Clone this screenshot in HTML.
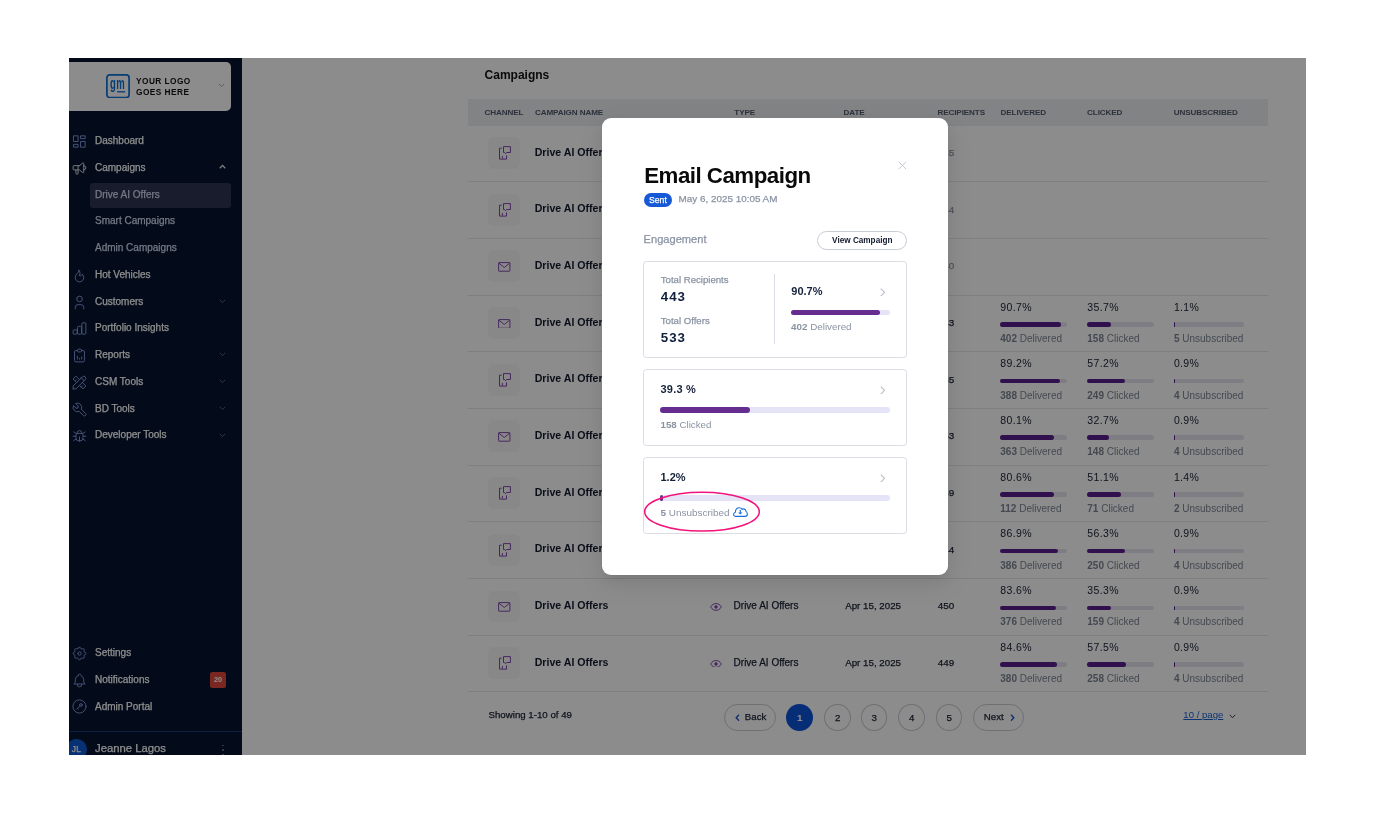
<!DOCTYPE html>
<html><head><meta charset="utf-8"><title>Campaigns</title>
<style>
*{margin:0;padding:0;box-sizing:content-box}
html,body{width:1375px;height:829px;overflow:hidden;background:#fff}
body{position:relative;font-family:"Liberation Sans", Arial, sans-serif;-webkit-font-smoothing:antialiased}
#app{position:absolute;left:69px;top:58px;width:1237px;height:697px;overflow:hidden}
#in{position:absolute;left:-69px;top:-58px;width:1375px;height:829px;will-change:transform}
.t{position:absolute;white-space:nowrap}
.b{position:absolute;display:block}
</style></head><body><div id="app"><div id="in">
<div class="b" style="left:69.00px;top:58.00px;width:173.00px;height:697.00px;background:#061530"></div>
<div class="b" style="left:40.00px;top:62.00px;width:191.00px;height:49.00px;background:#fff;border-radius:5px"></div>
<svg class="b" style="left:106.00px;top:74.00px;" width="24" height="24" viewBox="0 0 24 24" fill="none"><rect x="0.9" y="0.9" width="22.2" height="22.6" rx="2.8" stroke="#0b6fd6" stroke-width="1.7" fill="none"/><text transform="translate(4.0 15.1) scale(0.68 1.24)" font-family="Liberation Sans, Arial, sans-serif" font-size="14" font-weight="700" fill="#0b6fd6" letter-spacing="0.5">gm</text><path stroke="#0b6fd6" stroke-width="1.3" d="M11.1 17.8 H19.2"/></svg>
<div class="t" style="left:136.00px;top:77px;font-size:8.3px;line-height:8.3px;font-weight:700;color:#111;letter-spacing:0.45px;">YOUR LOGO</div>
<div class="t" style="left:136.00px;top:88px;font-size:8.3px;line-height:8.3px;font-weight:700;color:#111;letter-spacing:0.45px;">GOES HERE</div>
<svg class="b" style="left:218.00px;top:83.00px;" width="7" height="5" viewBox="0 0 7 5" fill="none"><path d="M0.8 0.8 L3.5 3.6 L6.2 0.8" stroke="#9aa3b5" stroke-width="0.9"/></svg>
<div class="b" style="left:90.00px;top:182.50px;width:141.00px;height:25.30px;background:#2c3350;border-radius:3px"></div>
<div class="t" style="left:95.00px;top:136px;font-size:10px;line-height:10px;font-weight:400;color:#ffffff;letter-spacing:0px;-webkit-text-stroke:0.25px currentColor">Dashboard</div>
<svg class="b" style="left:70.60px;top:133.10px;" width="17" height="17" viewBox="0 0 24 24" fill="none"><g stroke="#8097d8" stroke-width="1.4" stroke-linejoin="round" stroke-linecap="round"><path d="M4 4h6v8h-6z M4 16h6v4h-6z M14 12h6v8h-6z M14 4h6v4h-6z"/></g></svg>
<div class="t" style="left:95.00px;top:163px;font-size:10px;line-height:10px;font-weight:400;color:#ffffff;letter-spacing:0px;-webkit-text-stroke:0.25px currentColor">Campaigns</div>
<svg class="b" style="left:70.60px;top:159.85px;" width="17" height="17" viewBox="0 0 24 24" fill="none"><g stroke="#d9dbe0" stroke-width="1.4" stroke-linejoin="round" stroke-linecap="round"><path d="M18 8a3 3 0 0 1 0 6"/><path d="M10 8v11a1 1 0 0 1 -1 1h-1a1 1 0 0 1 -1 -1v-5"/><path d="M12 8h0l4.524 -3.77a.9 .9 0 0 1 1.476 .692v12.156a.9 .9 0 0 1 -1.476 .692l-4.524 -3.77h-8a1 1 0 0 1 -1 -1v-4a1 1 0 0 1 1 -1h8"/></g></svg>
<svg class="b" style="left:218.60px;top:164.45px;" width="7" height="5" viewBox="0 0 7 5" fill="none"><path d="M0.8 4.2 L3.5 1.4 L6.2 4.2" stroke="#e6e8ec" stroke-width="1.3"/></svg>
<div class="t" style="left:95.00px;top:190px;font-size:10px;line-height:10px;font-weight:400;color:#d3dbf2;letter-spacing:0px;-webkit-text-stroke:0.25px currentColor">Drive AI Offers</div>
<div class="t" style="left:95.00px;top:216px;font-size:10px;line-height:10px;font-weight:400;color:#d3dbf2;letter-spacing:0px;-webkit-text-stroke:0.25px currentColor">Smart Campaigns</div>
<div class="t" style="left:95.00px;top:243px;font-size:10px;line-height:10px;font-weight:400;color:#d3dbf2;letter-spacing:0px;-webkit-text-stroke:0.25px currentColor">Admin Campaigns</div>
<div class="t" style="left:95.00px;top:270px;font-size:10px;line-height:10px;font-weight:400;color:#ffffff;letter-spacing:0px;-webkit-text-stroke:0.25px currentColor">Hot Vehicles</div>
<svg class="b" style="left:70.60px;top:266.85px;" width="17" height="17" viewBox="0 0 24 24" fill="none"><g stroke="#8097d8" stroke-width="1.4" stroke-linejoin="round" stroke-linecap="round"><path d="M12 12c2 -2.96 0 -7 -1 -8c0 3.038 -1.773 4.741 -3 6c-1.226 1.26 -2 3.24 -2 5a6 6 0 1 0 12 0c0 -1.532 -1.056 -3.94 -2 -5c-1.786 3 -2.791 3 -4 2z"/></g></svg>
<div class="t" style="left:95.00px;top:297px;font-size:10px;line-height:10px;font-weight:400;color:#ffffff;letter-spacing:0px;-webkit-text-stroke:0.25px currentColor">Customers</div>
<svg class="b" style="left:70.60px;top:293.60px;" width="17" height="17" viewBox="0 0 24 24" fill="none"><g stroke="#8097d8" stroke-width="1.4" stroke-linejoin="round" stroke-linecap="round"><path d="M8 7a4 4 0 1 0 8 0a4 4 0 0 0 -8 0"/><path d="M6 21v-2a4 4 0 0 1 4 -4h4a4 4 0 0 1 4 4v2"/></g></svg>
<svg class="b" style="left:218.60px;top:298.80px;" width="7" height="5" viewBox="0 0 7 5" fill="none"><path d="M0.8 0.8 L3.5 3.6 L6.2 0.8" stroke="#5d6b8c" stroke-width="0.9"/></svg>
<div class="t" style="left:95.00px;top:323px;font-size:10px;line-height:10px;font-weight:400;color:#ffffff;letter-spacing:0px;-webkit-text-stroke:0.25px currentColor">Portfolio Insights</div>
<svg class="b" style="left:70.60px;top:320.35px;" width="17" height="17" viewBox="0 0 24 24" fill="none"><g stroke="#8097d8" stroke-width="1.4" stroke-linejoin="round" stroke-linecap="round"><path d="M3 15a1 1 0 0 1 1 -1h3.6a1 1 0 0 1 1 1v4a1 1 0 0 1 -1 1h-3.6a1 1 0 0 1 -1 -1z"/><path d="M9.2 10a1 1 0 0 1 1 -1h3.6a1 1 0 0 1 1 1v9a1 1 0 0 1 -1 1h-3.6a1 1 0 0 1 -1 -1z"/><path d="M15.4 5a1 1 0 0 1 1 -1h3.6a1 1 0 0 1 1 1v14a1 1 0 0 1 -1 1h-3.6a1 1 0 0 1 -1 -1z"/></g></svg>
<div class="t" style="left:95.00px;top:350px;font-size:10px;line-height:10px;font-weight:400;color:#ffffff;letter-spacing:0px;-webkit-text-stroke:0.25px currentColor">Reports</div>
<svg class="b" style="left:70.60px;top:347.10px;" width="17" height="17" viewBox="0 0 24 24" fill="none"><g stroke="#8097d8" stroke-width="1.4" stroke-linejoin="round" stroke-linecap="round"><path d="M9 5h-2a2 2 0 0 0 -2 2v12a2 2 0 0 0 2 2h10a2 2 0 0 0 2 -2v-12a2 2 0 0 0 -2 -2h-2"/><path d="M9 5a2 2 0 0 1 2 -2h2a2 2 0 0 1 2 2v0a2 2 0 0 1 -2 2h-2a2 2 0 0 1 -2 -2z"/><path d="M9 17v-4 M12 17v-1 M15 17v-3"/></g></svg>
<svg class="b" style="left:218.60px;top:352.30px;" width="7" height="5" viewBox="0 0 7 5" fill="none"><path d="M0.8 0.8 L3.5 3.6 L6.2 0.8" stroke="#5d6b8c" stroke-width="0.9"/></svg>
<div class="t" style="left:95.00px;top:377px;font-size:10px;line-height:10px;font-weight:400;color:#ffffff;letter-spacing:0px;-webkit-text-stroke:0.25px currentColor">CSM Tools</div>
<svg class="b" style="left:70.60px;top:373.85px;" width="17" height="17" viewBox="0 0 24 24" fill="none"><g stroke="#8097d8" stroke-width="1.4" stroke-linejoin="round" stroke-linecap="round"><path d="M3 21h4l13 -13a1.5 1.5 0 0 0 -4 -4l-13 13v4"/><path d="M14.5 5.5l4 4"/><path d="M12 8l-5 -5l-4 4l5 5"/><path d="M7 8l-1.5 1.5"/><path d="M16 12l5 5l-4 4l-5 -5"/><path d="M16 17l-1.5 1.5"/></g></svg>
<svg class="b" style="left:218.60px;top:379.05px;" width="7" height="5" viewBox="0 0 7 5" fill="none"><path d="M0.8 0.8 L3.5 3.6 L6.2 0.8" stroke="#5d6b8c" stroke-width="0.9"/></svg>
<div class="t" style="left:95.00px;top:404px;font-size:10px;line-height:10px;font-weight:400;color:#ffffff;letter-spacing:0px;-webkit-text-stroke:0.25px currentColor">BD Tools</div>
<svg class="b" style="left:70.60px;top:400.60px;" width="17" height="17" viewBox="0 0 24 24" fill="none"><g stroke="#8097d8" stroke-width="1.4" stroke-linejoin="round" stroke-linecap="round"><path d="M7 10h3v-3l-3.5 -3.5a6 6 0 0 1 8 8l6 6a2 2 0 0 1 -3 3l-6 -6a6 6 0 0 1 -8 -8l3.5 3.5"/></g></svg>
<svg class="b" style="left:218.60px;top:405.80px;" width="7" height="5" viewBox="0 0 7 5" fill="none"><path d="M0.8 0.8 L3.5 3.6 L6.2 0.8" stroke="#5d6b8c" stroke-width="0.9"/></svg>
<div class="t" style="left:95.00px;top:430px;font-size:10px;line-height:10px;font-weight:400;color:#ffffff;letter-spacing:0px;-webkit-text-stroke:0.25px currentColor">Developer Tools</div>
<svg class="b" style="left:70.60px;top:427.35px;" width="17" height="17" viewBox="0 0 24 24" fill="none"><g stroke="#8097d8" stroke-width="1.4" stroke-linejoin="round" stroke-linecap="round"><path d="M9 9v-1a3 3 0 0 1 6 0v1"/><path d="M8 9h8a6 6 0 0 1 1 3v3a5 5 0 0 1 -10 0v-3a6 6 0 0 1 1 -3"/><path d="M3 13l4 0 M17 13l4 0 M12 20l0 -6 M4 19l3.35 -2 M20 19l-3.35 -2 M4 7l3.75 2.4 M20 7l-3.75 2.4"/></g></svg>
<svg class="b" style="left:218.60px;top:432.55px;" width="7" height="5" viewBox="0 0 7 5" fill="none"><path d="M0.8 0.8 L3.5 3.6 L6.2 0.8" stroke="#5d6b8c" stroke-width="0.9"/></svg>
<div class="t" style="left:95.00px;top:648px;font-size:10px;line-height:10px;font-weight:400;color:#ffffff;letter-spacing:0px;-webkit-text-stroke:0.25px currentColor">Settings</div>
<svg class="b" style="left:70.60px;top:644.50px;" width="17" height="17" viewBox="0 0 24 24" fill="none"><g stroke="#8097d8" stroke-width="1.35" stroke-linejoin="round" stroke-linecap="round"><path d="M10.325 4.317c.426 -1.756 2.924 -1.756 3.35 0a1.724 1.724 0 0 0 2.573 1.066c1.543 -.94 3.31 .826 2.37 2.37a1.724 1.724 0 0 0 1.065 2.572c1.756 .426 1.756 2.924 0 3.35a1.724 1.724 0 0 0 -1.066 2.573c.94 1.543 -.826 3.31 -2.37 2.37a1.724 1.724 0 0 0 -2.572 1.065c-.426 1.756 -2.924 1.756 -3.35 0a1.724 1.724 0 0 0 -2.573 -1.066c-1.543 .94 -3.31 -.826 -2.37 -2.37a1.724 1.724 0 0 0 -1.065 -2.572c-1.756 -.426 -1.756 -2.924 0 -3.35a1.724 1.724 0 0 0 1.066 -2.573c-.94 -1.543 .826 -3.31 2.37 -2.37c1 .608 2.296 .07 2.572 -1.065z"/><path d="M9.6 12a2.4 2.4 0 1 0 4.8 0a2.4 2.4 0 0 0 -4.8 0"/></g></svg>
<div class="t" style="left:95.00px;top:675px;font-size:10px;line-height:10px;font-weight:400;color:#ffffff;letter-spacing:0px;-webkit-text-stroke:0.25px currentColor">Notifications</div>
<svg class="b" style="left:70.60px;top:671.70px;" width="17" height="17" viewBox="0 0 24 24" fill="none"><g stroke="#8097d8" stroke-width="1.35" stroke-linejoin="round" stroke-linecap="round"><path d="M10 5a2 2 0 1 1 4 0a7 7 0 0 1 4 6v3a4 4 0 0 0 2 3h-16a4 4 0 0 0 2 -3v-3a7 7 0 0 1 4 -6"/><path d="M9 17v1a3 3 0 0 0 6 0v-1"/></g></svg>
<div class="t" style="left:95.00px;top:702px;font-size:10px;line-height:10px;font-weight:400;color:#ffffff;letter-spacing:0px;-webkit-text-stroke:0.25px currentColor">Admin Portal</div>
<svg class="b" style="left:70.60px;top:697.80px;" width="17" height="17" viewBox="0 0 24 24" fill="none"><g stroke="#8097d8" stroke-width="1.35" stroke-linejoin="round" stroke-linecap="round"><circle cx="12" cy="12" r="9.3"/><circle cx="14" cy="9.8" r="1.9"/><path d="M12.6 11.2 L8 15.8 M9.2 14.6 L10.4 15.8"/></g></svg>
<div class="b" style="left:210.00px;top:672.20px;width:16.00px;height:15.60px;background:#e0483c;border-radius:2.5px"></div>
<div class="t" style="left:210.00px;top:676px;font-size:7.4px;line-height:7.4px;font-weight:700;color:#fff;letter-spacing:0px;width:16px;text-align:center">20</div>
<div class="b" style="left:69.00px;top:731.00px;width:173.00px;height:1.00px;background:#1a3d78"></div>
<div class="b" style="left:66.20px;top:738.90px;width:20.80px;height:20.80px;background:#0d5ad2;border-radius:50%"></div>
<div class="t" style="left:71.80px;top:745px;font-size:8.4px;line-height:8.4px;font-weight:400;color:#fff;letter-spacing:0.3px;-webkit-text-stroke:0.25px currentColor">JL</div>
<div class="t" style="left:95.00px;top:743px;font-size:11.3px;line-height:11.3px;font-weight:400;color:#ffffff;letter-spacing:0px;-webkit-text-stroke:0.25px currentColor">Jeanne Lagos</div>
<div class="b" style="left:222.40px;top:744.70px;width:1.60px;height:1.60px;background:#6d7896;border-radius:50%"></div>
<div class="b" style="left:222.40px;top:749.20px;width:1.60px;height:1.60px;background:#6d7896;border-radius:50%"></div>
<div class="b" style="left:222.40px;top:753.70px;width:1.60px;height:1.60px;background:#6d7896;border-radius:50%"></div>
<div class="b" style="left:242.00px;top:58.00px;width:1064.00px;height:697.00px;background:#fff"></div>
<div class="t" style="left:484.60px;top:69px;font-size:12px;line-height:12px;font-weight:700;color:#111;letter-spacing:0px;">Campaigns</div>
<div class="b" style="left:468.00px;top:99.10px;width:799.50px;height:26.60px;background:#edeef2"></div>
<div class="t" style="left:484.50px;top:109px;font-size:8.1px;line-height:8.1px;font-weight:700;color:#4f586b;letter-spacing:-0.1px;">CHANNEL</div>
<div class="t" style="left:534.90px;top:109px;font-size:8.1px;line-height:8.1px;font-weight:700;color:#4f586b;letter-spacing:-0.1px;">CAMPAIGN NAME</div>
<div class="t" style="left:734.30px;top:109px;font-size:8.1px;line-height:8.1px;font-weight:700;color:#4f586b;letter-spacing:-0.1px;">TYPE</div>
<div class="t" style="left:843.60px;top:109px;font-size:8.1px;line-height:8.1px;font-weight:700;color:#4f586b;letter-spacing:-0.1px;">DATE</div>
<div class="t" style="left:937.40px;top:109px;font-size:8.1px;line-height:8.1px;font-weight:700;color:#4f586b;letter-spacing:-0.1px;">RECIPIENTS</div>
<div class="t" style="left:1000.50px;top:109px;font-size:8.1px;line-height:8.1px;font-weight:700;color:#4f586b;letter-spacing:-0.1px;">DELIVERED</div>
<div class="t" style="left:1087.10px;top:109px;font-size:8.1px;line-height:8.1px;font-weight:700;color:#4f586b;letter-spacing:-0.1px;">CLICKED</div>
<div class="t" style="left:1173.70px;top:109px;font-size:8.1px;line-height:8.1px;font-weight:700;color:#4f586b;letter-spacing:-0.1px;">UNSUBSCRIBED</div>
<div class="b" style="left:468.00px;top:181.00px;width:799.50px;height:1.00px;background:#e6e8ec"></div>
<div class="b" style="left:488.00px;top:137.13px;width:31.90px;height:31.80px;background:#f7f7f9;border-radius:6px"></div>
<svg class="b" style="left:497.00px;top:144.94px;" width="15" height="16" viewBox="0 0 15 16" fill="none"><g stroke="#8246ad" stroke-width="1" stroke-linejoin="round" fill="none"><path d="M4.7 3.2 H2.5 V14.1 H9.5 V10.4"/><path d="M5.4 11 V13.6"/><path d="M6.5 7.5 V1.6 H13.4 V7.5 H9.6 L8.5 8.7 L7.6 7.5 Z"/></g></svg>
<div class="t" style="left:534.70px;top:147px;font-size:10.6px;line-height:10.6px;font-weight:700;color:#111a2e;letter-spacing:0px;">Drive AI Offers</div>
<svg class="b" style="left:710.00px;top:149.53px;" width="12" height="7.9" viewBox="0 0 12 7.9" fill="none"><g stroke="#8246ad" stroke-width="1" fill="none"><path d="M0.6 3.95 C2.1 1.4 4 0.6 6 0.6 C8 0.6 9.9 1.4 11.4 3.95 C9.9 6.5 8 7.3 6 7.3 C4 7.3 2.1 6.5 0.6 3.95 Z"/><circle cx="6" cy="3.95" r="1.25" fill="#8246ad"/></g></svg>
<div class="t" style="left:733.60px;top:148px;font-size:10px;line-height:10px;font-weight:400;color:#1a2233;letter-spacing:0px;-webkit-text-stroke:0.25px currentColor">Drive AI Offers</div>
<div class="t" style="left:845.20px;top:148px;font-size:9.75px;line-height:9.75px;font-weight:400;color:#1a2233;letter-spacing:0px;-webkit-text-stroke:0.25px currentColor">Apr 15, 2025</div>
<div class="t" style="left:937.70px;top:148px;font-size:9.9px;line-height:9.9px;font-weight:400;color:#8e95a3;letter-spacing:0px;-webkit-text-stroke:0.25px currentColor">445</div>
<div class="b" style="left:468.00px;top:238.00px;width:799.50px;height:1.00px;background:#e6e8ec"></div>
<div class="b" style="left:488.00px;top:193.80px;width:31.90px;height:31.80px;background:#f7f7f9;border-radius:6px"></div>
<svg class="b" style="left:497.00px;top:201.60px;" width="15" height="16" viewBox="0 0 15 16" fill="none"><g stroke="#8246ad" stroke-width="1" stroke-linejoin="round" fill="none"><path d="M4.7 3.2 H2.5 V14.1 H9.5 V10.4"/><path d="M5.4 11 V13.6"/><path d="M6.5 7.5 V1.6 H13.4 V7.5 H9.6 L8.5 8.7 L7.6 7.5 Z"/></g></svg>
<div class="t" style="left:534.70px;top:203px;font-size:10.6px;line-height:10.6px;font-weight:700;color:#111a2e;letter-spacing:0px;">Drive AI Offers</div>
<svg class="b" style="left:710.00px;top:206.20px;" width="12" height="7.9" viewBox="0 0 12 7.9" fill="none"><g stroke="#8246ad" stroke-width="1" fill="none"><path d="M0.6 3.95 C2.1 1.4 4 0.6 6 0.6 C8 0.6 9.9 1.4 11.4 3.95 C9.9 6.5 8 7.3 6 7.3 C4 7.3 2.1 6.5 0.6 3.95 Z"/><circle cx="6" cy="3.95" r="1.25" fill="#8246ad"/></g></svg>
<div class="t" style="left:733.60px;top:205px;font-size:10px;line-height:10px;font-weight:400;color:#1a2233;letter-spacing:0px;-webkit-text-stroke:0.25px currentColor">Drive AI Offers</div>
<div class="t" style="left:845.20px;top:205px;font-size:9.75px;line-height:9.75px;font-weight:400;color:#1a2233;letter-spacing:0px;-webkit-text-stroke:0.25px currentColor">Apr 15, 2025</div>
<div class="t" style="left:937.70px;top:205px;font-size:9.9px;line-height:9.9px;font-weight:400;color:#8e95a3;letter-spacing:0px;-webkit-text-stroke:0.25px currentColor">444</div>
<div class="b" style="left:468.00px;top:295.00px;width:799.50px;height:1.00px;background:#e6e8ec"></div>
<div class="b" style="left:488.00px;top:250.47px;width:31.90px;height:31.80px;background:#f7f7f9;border-radius:6px"></div>
<svg class="b" style="left:498.00px;top:261.97px;" width="12.5" height="9.8" viewBox="0 0 12.5 9.8" fill="none"><g stroke="#8246ad" stroke-width="1" stroke-linejoin="round" fill="none"><rect x="0.6" y="0.6" width="11.3" height="8.6" rx="0.5"/><path d="M0.9 1.2 L6.25 5.5 L11.6 1.2"/></g></svg>
<div class="t" style="left:534.70px;top:260px;font-size:10.6px;line-height:10.6px;font-weight:700;color:#111a2e;letter-spacing:0px;">Drive AI Offers</div>
<svg class="b" style="left:710.00px;top:262.88px;" width="12" height="7.9" viewBox="0 0 12 7.9" fill="none"><g stroke="#8246ad" stroke-width="1" fill="none"><path d="M0.6 3.95 C2.1 1.4 4 0.6 6 0.6 C8 0.6 9.9 1.4 11.4 3.95 C9.9 6.5 8 7.3 6 7.3 C4 7.3 2.1 6.5 0.6 3.95 Z"/><circle cx="6" cy="3.95" r="1.25" fill="#8246ad"/></g></svg>
<div class="t" style="left:733.60px;top:261px;font-size:10px;line-height:10px;font-weight:400;color:#1a2233;letter-spacing:0px;-webkit-text-stroke:0.25px currentColor">Drive AI Offers</div>
<div class="t" style="left:845.20px;top:261px;font-size:9.75px;line-height:9.75px;font-weight:400;color:#1a2233;letter-spacing:0px;-webkit-text-stroke:0.25px currentColor">Apr 15, 2025</div>
<div class="t" style="left:937.70px;top:261px;font-size:9.9px;line-height:9.9px;font-weight:400;color:#8e95a3;letter-spacing:0px;-webkit-text-stroke:0.25px currentColor">440</div>
<div class="b" style="left:468.00px;top:351.00px;width:799.50px;height:1.00px;background:#e6e8ec"></div>
<div class="b" style="left:488.00px;top:307.14px;width:31.90px;height:31.80px;background:#f7f7f9;border-radius:6px"></div>
<svg class="b" style="left:498.00px;top:318.64px;" width="12.5" height="9.8" viewBox="0 0 12.5 9.8" fill="none"><g stroke="#8246ad" stroke-width="1" stroke-linejoin="round" fill="none"><rect x="0.6" y="0.6" width="11.3" height="8.6" rx="0.5"/><path d="M0.9 1.2 L6.25 5.5 L11.6 1.2"/></g></svg>
<div class="t" style="left:534.70px;top:317px;font-size:10.6px;line-height:10.6px;font-weight:700;color:#111a2e;letter-spacing:0px;">Drive AI Offers</div>
<svg class="b" style="left:710.00px;top:319.55px;" width="12" height="7.9" viewBox="0 0 12 7.9" fill="none"><g stroke="#8246ad" stroke-width="1" fill="none"><path d="M0.6 3.95 C2.1 1.4 4 0.6 6 0.6 C8 0.6 9.9 1.4 11.4 3.95 C9.9 6.5 8 7.3 6 7.3 C4 7.3 2.1 6.5 0.6 3.95 Z"/><circle cx="6" cy="3.95" r="1.25" fill="#8246ad"/></g></svg>
<div class="t" style="left:733.60px;top:318px;font-size:10px;line-height:10px;font-weight:400;color:#1a2233;letter-spacing:0px;-webkit-text-stroke:0.25px currentColor">Drive AI Offers</div>
<div class="t" style="left:845.20px;top:318px;font-size:9.75px;line-height:9.75px;font-weight:400;color:#1a2233;letter-spacing:0px;-webkit-text-stroke:0.25px currentColor">Apr 15, 2025</div>
<div class="t" style="left:937.70px;top:318px;font-size:9.9px;line-height:9.9px;font-weight:400;color:#1a2233;letter-spacing:0px;-webkit-text-stroke:0.25px currentColor">443</div>
<div class="t" style="left:1000.30px;top:302px;font-size:10.5px;line-height:10.5px;font-weight:400;color:#1a2233;letter-spacing:0.35px;">90.7%</div>
<div class="b" style="left:1000.30px;top:322.14px;width:66.80px;height:4.60px;background:#e3e3ef;border-radius:3px"></div>
<div class="b" style="left:1000.30px;top:322.14px;width:60.79px;height:4.60px;background:#5a1f8c;border-radius:3px"></div>
<div class="t" style="left:1000.30px;top:334px;font-size:10px;line-height:10px;font-weight:400;color:#7d8594;letter-spacing:0px;"><b style="font-weight:700">402</b> Delivered</div>
<div class="t" style="left:1087.30px;top:302px;font-size:10.5px;line-height:10.5px;font-weight:400;color:#1a2233;letter-spacing:0.35px;">35.7%</div>
<div class="b" style="left:1087.30px;top:322.14px;width:66.80px;height:4.60px;background:#e3e3ef;border-radius:3px"></div>
<div class="b" style="left:1087.30px;top:322.14px;width:24.05px;height:4.60px;background:#5a1f8c;border-radius:3px"></div>
<div class="t" style="left:1087.30px;top:334px;font-size:10px;line-height:10px;font-weight:400;color:#7d8594;letter-spacing:0px;"><b style="font-weight:700">158</b> Clicked</div>
<div class="t" style="left:1173.90px;top:302px;font-size:10.5px;line-height:10.5px;font-weight:400;color:#1a2233;letter-spacing:0.35px;">1.1%</div>
<div class="b" style="left:1173.90px;top:322.14px;width:70.00px;height:4.60px;background:#e3e3ef;border-radius:3px"></div>
<div class="b" style="left:1173.90px;top:322.14px;width:1.30px;height:4.60px;background:#5a1f8c;border-radius:1px"></div>
<div class="t" style="left:1173.90px;top:334px;font-size:10px;line-height:10px;font-weight:400;color:#7d8594;letter-spacing:0px;"><b style="font-weight:700">5</b> Unsubscribed</div>
<div class="b" style="left:468.00px;top:408.00px;width:799.50px;height:1.00px;background:#e6e8ec"></div>
<div class="b" style="left:488.00px;top:363.81px;width:31.90px;height:31.80px;background:#f7f7f9;border-radius:6px"></div>
<svg class="b" style="left:497.00px;top:371.61px;" width="15" height="16" viewBox="0 0 15 16" fill="none"><g stroke="#8246ad" stroke-width="1" stroke-linejoin="round" fill="none"><path d="M4.7 3.2 H2.5 V14.1 H9.5 V10.4"/><path d="M5.4 11 V13.6"/><path d="M6.5 7.5 V1.6 H13.4 V7.5 H9.6 L8.5 8.7 L7.6 7.5 Z"/></g></svg>
<div class="t" style="left:534.70px;top:373px;font-size:10.6px;line-height:10.6px;font-weight:700;color:#111a2e;letter-spacing:0px;">Drive AI Offers</div>
<svg class="b" style="left:710.00px;top:376.21px;" width="12" height="7.9" viewBox="0 0 12 7.9" fill="none"><g stroke="#8246ad" stroke-width="1" fill="none"><path d="M0.6 3.95 C2.1 1.4 4 0.6 6 0.6 C8 0.6 9.9 1.4 11.4 3.95 C9.9 6.5 8 7.3 6 7.3 C4 7.3 2.1 6.5 0.6 3.95 Z"/><circle cx="6" cy="3.95" r="1.25" fill="#8246ad"/></g></svg>
<div class="t" style="left:733.60px;top:375px;font-size:10px;line-height:10px;font-weight:400;color:#1a2233;letter-spacing:0px;-webkit-text-stroke:0.25px currentColor">Drive AI Offers</div>
<div class="t" style="left:845.20px;top:375px;font-size:9.75px;line-height:9.75px;font-weight:400;color:#1a2233;letter-spacing:0px;-webkit-text-stroke:0.25px currentColor">Apr 15, 2025</div>
<div class="t" style="left:937.70px;top:375px;font-size:9.9px;line-height:9.9px;font-weight:400;color:#1a2233;letter-spacing:0px;-webkit-text-stroke:0.25px currentColor">435</div>
<div class="t" style="left:1000.30px;top:358px;font-size:10.5px;line-height:10.5px;font-weight:400;color:#1a2233;letter-spacing:0.35px;">89.2%</div>
<div class="b" style="left:1000.30px;top:378.81px;width:66.80px;height:4.60px;background:#e3e3ef;border-radius:3px"></div>
<div class="b" style="left:1000.30px;top:378.81px;width:59.45px;height:4.60px;background:#5a1f8c;border-radius:3px"></div>
<div class="t" style="left:1000.30px;top:391px;font-size:10px;line-height:10px;font-weight:400;color:#7d8594;letter-spacing:0px;"><b style="font-weight:700">388</b> Delivered</div>
<div class="t" style="left:1087.30px;top:358px;font-size:10.5px;line-height:10.5px;font-weight:400;color:#1a2233;letter-spacing:0.35px;">57.2%</div>
<div class="b" style="left:1087.30px;top:378.81px;width:66.80px;height:4.60px;background:#e3e3ef;border-radius:3px"></div>
<div class="b" style="left:1087.30px;top:378.81px;width:38.08px;height:4.60px;background:#5a1f8c;border-radius:3px"></div>
<div class="t" style="left:1087.30px;top:391px;font-size:10px;line-height:10px;font-weight:400;color:#7d8594;letter-spacing:0px;"><b style="font-weight:700">249</b> Clicked</div>
<div class="t" style="left:1173.90px;top:358px;font-size:10.5px;line-height:10.5px;font-weight:400;color:#1a2233;letter-spacing:0.35px;">0.9%</div>
<div class="b" style="left:1173.90px;top:378.81px;width:70.00px;height:4.60px;background:#e3e3ef;border-radius:3px"></div>
<div class="b" style="left:1173.90px;top:378.81px;width:1.30px;height:4.60px;background:#5a1f8c;border-radius:1px"></div>
<div class="t" style="left:1173.90px;top:391px;font-size:10px;line-height:10px;font-weight:400;color:#7d8594;letter-spacing:0px;"><b style="font-weight:700">4</b> Unsubscribed</div>
<div class="b" style="left:468.00px;top:465.00px;width:799.50px;height:1.00px;background:#e6e8ec"></div>
<div class="b" style="left:488.00px;top:420.49px;width:31.90px;height:31.80px;background:#f7f7f9;border-radius:6px"></div>
<svg class="b" style="left:498.00px;top:431.99px;" width="12.5" height="9.8" viewBox="0 0 12.5 9.8" fill="none"><g stroke="#8246ad" stroke-width="1" stroke-linejoin="round" fill="none"><rect x="0.6" y="0.6" width="11.3" height="8.6" rx="0.5"/><path d="M0.9 1.2 L6.25 5.5 L11.6 1.2"/></g></svg>
<div class="t" style="left:534.70px;top:430px;font-size:10.6px;line-height:10.6px;font-weight:700;color:#111a2e;letter-spacing:0px;">Drive AI Offers</div>
<svg class="b" style="left:710.00px;top:432.89px;" width="12" height="7.9" viewBox="0 0 12 7.9" fill="none"><g stroke="#8246ad" stroke-width="1" fill="none"><path d="M0.6 3.95 C2.1 1.4 4 0.6 6 0.6 C8 0.6 9.9 1.4 11.4 3.95 C9.9 6.5 8 7.3 6 7.3 C4 7.3 2.1 6.5 0.6 3.95 Z"/><circle cx="6" cy="3.95" r="1.25" fill="#8246ad"/></g></svg>
<div class="t" style="left:733.60px;top:431px;font-size:10px;line-height:10px;font-weight:400;color:#1a2233;letter-spacing:0px;-webkit-text-stroke:0.25px currentColor">Drive AI Offers</div>
<div class="t" style="left:845.20px;top:431px;font-size:9.75px;line-height:9.75px;font-weight:400;color:#1a2233;letter-spacing:0px;-webkit-text-stroke:0.25px currentColor">Apr 15, 2025</div>
<div class="t" style="left:937.70px;top:431px;font-size:9.9px;line-height:9.9px;font-weight:400;color:#1a2233;letter-spacing:0px;-webkit-text-stroke:0.25px currentColor">453</div>
<div class="t" style="left:1000.30px;top:415px;font-size:10.5px;line-height:10.5px;font-weight:400;color:#1a2233;letter-spacing:0.35px;">80.1%</div>
<div class="b" style="left:1000.30px;top:435.49px;width:66.80px;height:4.60px;background:#e3e3ef;border-radius:3px"></div>
<div class="b" style="left:1000.30px;top:435.49px;width:53.44px;height:4.60px;background:#5a1f8c;border-radius:3px"></div>
<div class="t" style="left:1000.30px;top:447px;font-size:10px;line-height:10px;font-weight:400;color:#7d8594;letter-spacing:0px;"><b style="font-weight:700">363</b> Delivered</div>
<div class="t" style="left:1087.30px;top:415px;font-size:10.5px;line-height:10.5px;font-weight:400;color:#1a2233;letter-spacing:0.35px;">32.7%</div>
<div class="b" style="left:1087.30px;top:435.49px;width:66.80px;height:4.60px;background:#e3e3ef;border-radius:3px"></div>
<div class="b" style="left:1087.30px;top:435.49px;width:22.04px;height:4.60px;background:#5a1f8c;border-radius:3px"></div>
<div class="t" style="left:1087.30px;top:447px;font-size:10px;line-height:10px;font-weight:400;color:#7d8594;letter-spacing:0px;"><b style="font-weight:700">148</b> Clicked</div>
<div class="t" style="left:1173.90px;top:415px;font-size:10.5px;line-height:10.5px;font-weight:400;color:#1a2233;letter-spacing:0.35px;">0.9%</div>
<div class="b" style="left:1173.90px;top:435.49px;width:70.00px;height:4.60px;background:#e3e3ef;border-radius:3px"></div>
<div class="b" style="left:1173.90px;top:435.49px;width:1.30px;height:4.60px;background:#5a1f8c;border-radius:1px"></div>
<div class="t" style="left:1173.90px;top:447px;font-size:10px;line-height:10px;font-weight:400;color:#7d8594;letter-spacing:0px;"><b style="font-weight:700">4</b> Unsubscribed</div>
<div class="b" style="left:468.00px;top:521.00px;width:799.50px;height:1.00px;background:#e6e8ec"></div>
<div class="b" style="left:488.00px;top:477.15px;width:31.90px;height:31.80px;background:#f7f7f9;border-radius:6px"></div>
<svg class="b" style="left:497.00px;top:484.95px;" width="15" height="16" viewBox="0 0 15 16" fill="none"><g stroke="#8246ad" stroke-width="1" stroke-linejoin="round" fill="none"><path d="M4.7 3.2 H2.5 V14.1 H9.5 V10.4"/><path d="M5.4 11 V13.6"/><path d="M6.5 7.5 V1.6 H13.4 V7.5 H9.6 L8.5 8.7 L7.6 7.5 Z"/></g></svg>
<div class="t" style="left:534.70px;top:487px;font-size:10.6px;line-height:10.6px;font-weight:700;color:#111a2e;letter-spacing:0px;">Drive AI Offers</div>
<svg class="b" style="left:710.00px;top:489.56px;" width="12" height="7.9" viewBox="0 0 12 7.9" fill="none"><g stroke="#8246ad" stroke-width="1" fill="none"><path d="M0.6 3.95 C2.1 1.4 4 0.6 6 0.6 C8 0.6 9.9 1.4 11.4 3.95 C9.9 6.5 8 7.3 6 7.3 C4 7.3 2.1 6.5 0.6 3.95 Z"/><circle cx="6" cy="3.95" r="1.25" fill="#8246ad"/></g></svg>
<div class="t" style="left:733.60px;top:488px;font-size:10px;line-height:10px;font-weight:400;color:#1a2233;letter-spacing:0px;-webkit-text-stroke:0.25px currentColor">Drive AI Offers</div>
<div class="t" style="left:845.20px;top:488px;font-size:9.75px;line-height:9.75px;font-weight:400;color:#1a2233;letter-spacing:0px;-webkit-text-stroke:0.25px currentColor">Apr 15, 2025</div>
<div class="t" style="left:937.70px;top:488px;font-size:9.9px;line-height:9.9px;font-weight:400;color:#1a2233;letter-spacing:0px;-webkit-text-stroke:0.25px currentColor">139</div>
<div class="t" style="left:1000.30px;top:472px;font-size:10.5px;line-height:10.5px;font-weight:400;color:#1a2233;letter-spacing:0.35px;">80.6%</div>
<div class="b" style="left:1000.30px;top:492.15px;width:66.80px;height:4.60px;background:#e3e3ef;border-radius:3px"></div>
<div class="b" style="left:1000.30px;top:492.15px;width:54.11px;height:4.60px;background:#5a1f8c;border-radius:3px"></div>
<div class="t" style="left:1000.30px;top:504px;font-size:10px;line-height:10px;font-weight:400;color:#7d8594;letter-spacing:0px;"><b style="font-weight:700">112</b> Delivered</div>
<div class="t" style="left:1087.30px;top:472px;font-size:10.5px;line-height:10.5px;font-weight:400;color:#1a2233;letter-spacing:0.35px;">51.1%</div>
<div class="b" style="left:1087.30px;top:492.15px;width:66.80px;height:4.60px;background:#e3e3ef;border-radius:3px"></div>
<div class="b" style="left:1087.30px;top:492.15px;width:34.07px;height:4.60px;background:#5a1f8c;border-radius:3px"></div>
<div class="t" style="left:1087.30px;top:504px;font-size:10px;line-height:10px;font-weight:400;color:#7d8594;letter-spacing:0px;"><b style="font-weight:700">71</b> Clicked</div>
<div class="t" style="left:1173.90px;top:472px;font-size:10.5px;line-height:10.5px;font-weight:400;color:#1a2233;letter-spacing:0.35px;">1.4%</div>
<div class="b" style="left:1173.90px;top:492.15px;width:70.00px;height:4.60px;background:#e3e3ef;border-radius:3px"></div>
<div class="b" style="left:1173.90px;top:492.15px;width:1.30px;height:4.60px;background:#5a1f8c;border-radius:1px"></div>
<div class="t" style="left:1173.90px;top:504px;font-size:10px;line-height:10px;font-weight:400;color:#7d8594;letter-spacing:0px;"><b style="font-weight:700">2</b> Unsubscribed</div>
<div class="b" style="left:468.00px;top:578.00px;width:799.50px;height:1.00px;background:#e6e8ec"></div>
<div class="b" style="left:488.00px;top:533.83px;width:31.90px;height:31.80px;background:#f7f7f9;border-radius:6px"></div>
<svg class="b" style="left:497.00px;top:541.62px;" width="15" height="16" viewBox="0 0 15 16" fill="none"><g stroke="#8246ad" stroke-width="1" stroke-linejoin="round" fill="none"><path d="M4.7 3.2 H2.5 V14.1 H9.5 V10.4"/><path d="M5.4 11 V13.6"/><path d="M6.5 7.5 V1.6 H13.4 V7.5 H9.6 L8.5 8.7 L7.6 7.5 Z"/></g></svg>
<div class="t" style="left:534.70px;top:543px;font-size:10.6px;line-height:10.6px;font-weight:700;color:#111a2e;letter-spacing:0px;">Drive AI Offers</div>
<svg class="b" style="left:710.00px;top:546.23px;" width="12" height="7.9" viewBox="0 0 12 7.9" fill="none"><g stroke="#8246ad" stroke-width="1" fill="none"><path d="M0.6 3.95 C2.1 1.4 4 0.6 6 0.6 C8 0.6 9.9 1.4 11.4 3.95 C9.9 6.5 8 7.3 6 7.3 C4 7.3 2.1 6.5 0.6 3.95 Z"/><circle cx="6" cy="3.95" r="1.25" fill="#8246ad"/></g></svg>
<div class="t" style="left:733.60px;top:545px;font-size:10px;line-height:10px;font-weight:400;color:#1a2233;letter-spacing:0px;-webkit-text-stroke:0.25px currentColor">Drive AI Offers</div>
<div class="t" style="left:845.20px;top:545px;font-size:9.75px;line-height:9.75px;font-weight:400;color:#1a2233;letter-spacing:0px;-webkit-text-stroke:0.25px currentColor">Apr 15, 2025</div>
<div class="t" style="left:937.70px;top:545px;font-size:9.9px;line-height:9.9px;font-weight:400;color:#1a2233;letter-spacing:0px;-webkit-text-stroke:0.25px currentColor">444</div>
<div class="t" style="left:1000.30px;top:528px;font-size:10.5px;line-height:10.5px;font-weight:400;color:#1a2233;letter-spacing:0.35px;">86.9%</div>
<div class="b" style="left:1000.30px;top:548.83px;width:66.80px;height:4.60px;background:#e3e3ef;border-radius:3px"></div>
<div class="b" style="left:1000.30px;top:548.83px;width:58.12px;height:4.60px;background:#5a1f8c;border-radius:3px"></div>
<div class="t" style="left:1000.30px;top:561px;font-size:10px;line-height:10px;font-weight:400;color:#7d8594;letter-spacing:0px;"><b style="font-weight:700">386</b> Delivered</div>
<div class="t" style="left:1087.30px;top:528px;font-size:10.5px;line-height:10.5px;font-weight:400;color:#1a2233;letter-spacing:0.35px;">56.3%</div>
<div class="b" style="left:1087.30px;top:548.83px;width:66.80px;height:4.60px;background:#e3e3ef;border-radius:3px"></div>
<div class="b" style="left:1087.30px;top:548.83px;width:37.41px;height:4.60px;background:#5a1f8c;border-radius:3px"></div>
<div class="t" style="left:1087.30px;top:561px;font-size:10px;line-height:10px;font-weight:400;color:#7d8594;letter-spacing:0px;"><b style="font-weight:700">250</b> Clicked</div>
<div class="t" style="left:1173.90px;top:528px;font-size:10.5px;line-height:10.5px;font-weight:400;color:#1a2233;letter-spacing:0.35px;">0.9%</div>
<div class="b" style="left:1173.90px;top:548.83px;width:70.00px;height:4.60px;background:#e3e3ef;border-radius:3px"></div>
<div class="b" style="left:1173.90px;top:548.83px;width:1.30px;height:4.60px;background:#5a1f8c;border-radius:1px"></div>
<div class="t" style="left:1173.90px;top:561px;font-size:10px;line-height:10px;font-weight:400;color:#7d8594;letter-spacing:0px;"><b style="font-weight:700">4</b> Unsubscribed</div>
<div class="b" style="left:468.00px;top:635.00px;width:799.50px;height:1.00px;background:#e6e8ec"></div>
<div class="b" style="left:488.00px;top:590.50px;width:31.90px;height:31.80px;background:#f7f7f9;border-radius:6px"></div>
<svg class="b" style="left:498.00px;top:602.00px;" width="12.5" height="9.8" viewBox="0 0 12.5 9.8" fill="none"><g stroke="#8246ad" stroke-width="1" stroke-linejoin="round" fill="none"><rect x="0.6" y="0.6" width="11.3" height="8.6" rx="0.5"/><path d="M0.9 1.2 L6.25 5.5 L11.6 1.2"/></g></svg>
<div class="t" style="left:534.70px;top:600px;font-size:10.6px;line-height:10.6px;font-weight:700;color:#111a2e;letter-spacing:0px;">Drive AI Offers</div>
<svg class="b" style="left:710.00px;top:602.90px;" width="12" height="7.9" viewBox="0 0 12 7.9" fill="none"><g stroke="#8246ad" stroke-width="1" fill="none"><path d="M0.6 3.95 C2.1 1.4 4 0.6 6 0.6 C8 0.6 9.9 1.4 11.4 3.95 C9.9 6.5 8 7.3 6 7.3 C4 7.3 2.1 6.5 0.6 3.95 Z"/><circle cx="6" cy="3.95" r="1.25" fill="#8246ad"/></g></svg>
<div class="t" style="left:733.60px;top:601px;font-size:10px;line-height:10px;font-weight:400;color:#1a2233;letter-spacing:0px;-webkit-text-stroke:0.25px currentColor">Drive AI Offers</div>
<div class="t" style="left:845.20px;top:601px;font-size:9.75px;line-height:9.75px;font-weight:400;color:#1a2233;letter-spacing:0px;-webkit-text-stroke:0.25px currentColor">Apr 15, 2025</div>
<div class="t" style="left:937.70px;top:601px;font-size:9.9px;line-height:9.9px;font-weight:400;color:#1a2233;letter-spacing:0px;-webkit-text-stroke:0.25px currentColor">450</div>
<div class="t" style="left:1000.30px;top:585px;font-size:10.5px;line-height:10.5px;font-weight:400;color:#1a2233;letter-spacing:0.35px;">83.6%</div>
<div class="b" style="left:1000.30px;top:605.50px;width:66.80px;height:4.60px;background:#e3e3ef;border-radius:3px"></div>
<div class="b" style="left:1000.30px;top:605.50px;width:56.11px;height:4.60px;background:#5a1f8c;border-radius:3px"></div>
<div class="t" style="left:1000.30px;top:617px;font-size:10px;line-height:10px;font-weight:400;color:#7d8594;letter-spacing:0px;"><b style="font-weight:700">376</b> Delivered</div>
<div class="t" style="left:1087.30px;top:585px;font-size:10.5px;line-height:10.5px;font-weight:400;color:#1a2233;letter-spacing:0.35px;">35.3%</div>
<div class="b" style="left:1087.30px;top:605.50px;width:66.80px;height:4.60px;background:#e3e3ef;border-radius:3px"></div>
<div class="b" style="left:1087.30px;top:605.50px;width:23.38px;height:4.60px;background:#5a1f8c;border-radius:3px"></div>
<div class="t" style="left:1087.30px;top:617px;font-size:10px;line-height:10px;font-weight:400;color:#7d8594;letter-spacing:0px;"><b style="font-weight:700">159</b> Clicked</div>
<div class="t" style="left:1173.90px;top:585px;font-size:10.5px;line-height:10.5px;font-weight:400;color:#1a2233;letter-spacing:0.35px;">0.9%</div>
<div class="b" style="left:1173.90px;top:605.50px;width:70.00px;height:4.60px;background:#e3e3ef;border-radius:3px"></div>
<div class="b" style="left:1173.90px;top:605.50px;width:1.30px;height:4.60px;background:#5a1f8c;border-radius:1px"></div>
<div class="t" style="left:1173.90px;top:617px;font-size:10px;line-height:10px;font-weight:400;color:#7d8594;letter-spacing:0px;"><b style="font-weight:700">4</b> Unsubscribed</div>
<div class="b" style="left:468.00px;top:691.00px;width:799.50px;height:1.00px;background:#e6e8ec"></div>
<div class="b" style="left:488.00px;top:647.17px;width:31.90px;height:31.80px;background:#f7f7f9;border-radius:6px"></div>
<svg class="b" style="left:497.00px;top:654.97px;" width="15" height="16" viewBox="0 0 15 16" fill="none"><g stroke="#8246ad" stroke-width="1" stroke-linejoin="round" fill="none"><path d="M4.7 3.2 H2.5 V14.1 H9.5 V10.4"/><path d="M5.4 11 V13.6"/><path d="M6.5 7.5 V1.6 H13.4 V7.5 H9.6 L8.5 8.7 L7.6 7.5 Z"/></g></svg>
<div class="t" style="left:534.70px;top:657px;font-size:10.6px;line-height:10.6px;font-weight:700;color:#111a2e;letter-spacing:0px;">Drive AI Offers</div>
<svg class="b" style="left:710.00px;top:659.57px;" width="12" height="7.9" viewBox="0 0 12 7.9" fill="none"><g stroke="#8246ad" stroke-width="1" fill="none"><path d="M0.6 3.95 C2.1 1.4 4 0.6 6 0.6 C8 0.6 9.9 1.4 11.4 3.95 C9.9 6.5 8 7.3 6 7.3 C4 7.3 2.1 6.5 0.6 3.95 Z"/><circle cx="6" cy="3.95" r="1.25" fill="#8246ad"/></g></svg>
<div class="t" style="left:733.60px;top:658px;font-size:10px;line-height:10px;font-weight:400;color:#1a2233;letter-spacing:0px;-webkit-text-stroke:0.25px currentColor">Drive AI Offers</div>
<div class="t" style="left:845.20px;top:658px;font-size:9.75px;line-height:9.75px;font-weight:400;color:#1a2233;letter-spacing:0px;-webkit-text-stroke:0.25px currentColor">Apr 15, 2025</div>
<div class="t" style="left:937.70px;top:658px;font-size:9.9px;line-height:9.9px;font-weight:400;color:#1a2233;letter-spacing:0px;-webkit-text-stroke:0.25px currentColor">449</div>
<div class="t" style="left:1000.30px;top:642px;font-size:10.5px;line-height:10.5px;font-weight:400;color:#1a2233;letter-spacing:0.35px;">84.6%</div>
<div class="b" style="left:1000.30px;top:662.17px;width:66.80px;height:4.60px;background:#e3e3ef;border-radius:3px"></div>
<div class="b" style="left:1000.30px;top:662.17px;width:56.78px;height:4.60px;background:#5a1f8c;border-radius:3px"></div>
<div class="t" style="left:1000.30px;top:674px;font-size:10px;line-height:10px;font-weight:400;color:#7d8594;letter-spacing:0px;"><b style="font-weight:700">380</b> Delivered</div>
<div class="t" style="left:1087.30px;top:642px;font-size:10.5px;line-height:10.5px;font-weight:400;color:#1a2233;letter-spacing:0.35px;">57.5%</div>
<div class="b" style="left:1087.30px;top:662.17px;width:66.80px;height:4.60px;background:#e3e3ef;border-radius:3px"></div>
<div class="b" style="left:1087.30px;top:662.17px;width:38.74px;height:4.60px;background:#5a1f8c;border-radius:3px"></div>
<div class="t" style="left:1087.30px;top:674px;font-size:10px;line-height:10px;font-weight:400;color:#7d8594;letter-spacing:0px;"><b style="font-weight:700">258</b> Clicked</div>
<div class="t" style="left:1173.90px;top:642px;font-size:10.5px;line-height:10.5px;font-weight:400;color:#1a2233;letter-spacing:0.35px;">0.9%</div>
<div class="b" style="left:1173.90px;top:662.17px;width:70.00px;height:4.60px;background:#e3e3ef;border-radius:3px"></div>
<div class="b" style="left:1173.90px;top:662.17px;width:1.30px;height:4.60px;background:#5a1f8c;border-radius:1px"></div>
<div class="t" style="left:1173.90px;top:674px;font-size:10px;line-height:10px;font-weight:400;color:#7d8594;letter-spacing:0px;"><b style="font-weight:700">4</b> Unsubscribed</div>
<div class="t" style="left:488.50px;top:710px;font-size:9.7px;line-height:9.7px;font-weight:400;color:#1a2233;letter-spacing:0px;-webkit-text-stroke:0.25px currentColor">Showing 1-10 of 49</div>
<div class="b" style="left:723.80px;top:703.80px;width:52.20px;height:26.80px;border:1px solid #c9ccd3;border-radius:14px;box-sizing:border-box"></div>
<svg class="b" style="left:734.80px;top:713.50px;" width="5" height="7.5" viewBox="0 0 5 7.5" fill="none"><path d="M4 0.8 L1.2 3.75 L4 6.7" stroke="#1d55c4" stroke-width="1.4" fill="none"/></svg>
<div class="t" style="left:744.80px;top:712px;font-size:9.7px;line-height:9.7px;font-weight:400;color:#1a2233;letter-spacing:0px;-webkit-text-stroke:0.25px currentColor">Back</div>
<div class="b" style="left:786.00px;top:703.80px;width:26.70px;height:26.80px;background:#0b55d8;border-radius:50%"></div>
<div class="t" style="left:786.30px;top:713px;font-size:9.9px;line-height:9.9px;font-weight:700;color:#fff;letter-spacing:0px;width:26.7px;text-align:center">1</div>
<div class="b" style="left:824.40px;top:703.80px;width:26.40px;height:26.80px;border:1px solid #c9ccd3;border-radius:50%;box-sizing:border-box"></div>
<div class="t" style="left:824.40px;top:713px;font-size:9.7px;line-height:9.7px;font-weight:400;color:#1a2233;letter-spacing:0px;width:26.4px;text-align:center;-webkit-text-stroke:0.25px currentColor">2</div>
<div class="b" style="left:861.10px;top:703.80px;width:26.40px;height:26.80px;border:1px solid #c9ccd3;border-radius:50%;box-sizing:border-box"></div>
<div class="t" style="left:861.10px;top:713px;font-size:9.7px;line-height:9.7px;font-weight:400;color:#1a2233;letter-spacing:0px;width:26.4px;text-align:center;-webkit-text-stroke:0.25px currentColor">3</div>
<div class="b" style="left:898.40px;top:703.80px;width:26.40px;height:26.80px;border:1px solid #c9ccd3;border-radius:50%;box-sizing:border-box"></div>
<div class="t" style="left:898.40px;top:713px;font-size:9.7px;line-height:9.7px;font-weight:400;color:#1a2233;letter-spacing:0px;width:26.4px;text-align:center;-webkit-text-stroke:0.25px currentColor">4</div>
<div class="b" style="left:936.10px;top:703.80px;width:26.40px;height:26.80px;border:1px solid #c9ccd3;border-radius:50%;box-sizing:border-box"></div>
<div class="t" style="left:936.10px;top:713px;font-size:9.7px;line-height:9.7px;font-weight:400;color:#1a2233;letter-spacing:0px;width:26.4px;text-align:center;-webkit-text-stroke:0.25px currentColor">5</div>
<div class="b" style="left:973.30px;top:703.80px;width:50.50px;height:26.80px;border:1px solid #c9ccd3;border-radius:14px;box-sizing:border-box"></div>
<div class="t" style="left:983.80px;top:712px;font-size:9.7px;line-height:9.7px;font-weight:400;color:#1a2233;letter-spacing:0px;-webkit-text-stroke:0.25px currentColor">Next</div>
<svg class="b" style="left:1009.60px;top:713.50px;" width="5" height="7.5" viewBox="0 0 5 7.5" fill="none"><path d="M1 0.8 L3.8 3.75 L1 6.7" stroke="#1d55c4" stroke-width="1.4" fill="none"/></svg>
<div class="t" style="left:1183.30px;top:710px;font-size:9.6px;line-height:9.6px;font-weight:400;color:#1a5fd0;letter-spacing:0px;text-decoration:underline;text-underline-offset:1px;text-decoration-thickness:1px">10 / page</div>
<svg class="b" style="left:1229.00px;top:714.30px;" width="7" height="5" viewBox="0 0 7 5" fill="none"><path d="M0.8 0.8 L3.5 3.8 L6.2 0.8" stroke="#3a4150" stroke-width="1" fill="none"/></svg>
<div class="b" style="left:69.00px;top:58.00px;width:1237.00px;height:697.00px;background:rgba(0,0,0,0.45)"></div>
<div class="b" style="left:602.00px;top:117.60px;width:346.00px;height:457.10px;background:#fff;border-radius:9px;box-shadow:0 6px 16px rgba(0,0,0,0.08),0 3px 6px -4px rgba(0,0,0,0.12),0 9px 28px 8px rgba(0,0,0,0.05)"></div>
<svg class="b" style="left:897.60px;top:161.00px;" width="8.8" height="8.8" viewBox="0 0 8.8 8.8" fill="none"><path d="M0.6 0.6 L8.2 8.2 M8.2 0.6 L0.6 8.2" stroke="#c5c9d1" stroke-width="1"/></svg>
<div class="t" style="left:644.20px;top:165px;font-size:22.3px;line-height:22.3px;font-weight:700;color:#0a0a0a;letter-spacing:-0.5px;">Email Campaign</div>
<div class="b" style="left:643.90px;top:193.00px;width:28.10px;height:13.70px;background:#1559d6;border-radius:7px"></div>
<div class="t" style="left:643.90px;top:196px;font-size:8.6px;line-height:8.6px;font-weight:400;color:#fff;letter-spacing:0px;width:28.1px;text-align:center;-webkit-text-stroke:0.25px currentColor">Sent</div>
<div class="t" style="left:678.60px;top:194px;font-size:9.9px;line-height:9.9px;font-weight:400;color:#8a93a3;letter-spacing:0px;-webkit-text-stroke:0.25px currentColor">May 6, 2025 10:05 AM</div>
<div class="t" style="left:643.60px;top:234px;font-size:11.1px;line-height:11.1px;font-weight:400;color:#8a93a3;letter-spacing:0px;-webkit-text-stroke:0.25px currentColor">Engagement</div>
<div class="b" style="left:817.20px;top:230.60px;width:89.60px;height:19.90px;border:1px solid #c9cdd5;border-radius:10px;box-sizing:border-box"></div>
<div class="t" style="left:832.10px;top:237px;font-size:8.2px;line-height:8.2px;font-weight:700;color:#111a2e;letter-spacing:0px;">View Campaign</div>
<div class="b" style="left:643.00px;top:261.40px;width:264.00px;height:96.30px;border:1px solid #d9dce2;border-radius:3.5px;box-sizing:border-box"></div>
<div class="t" style="left:660.80px;top:275px;font-size:9.6px;line-height:9.6px;font-weight:400;color:#8a93a3;letter-spacing:0px;-webkit-text-stroke:0.25px currentColor">Total Recipients</div>
<div class="t" style="left:660.80px;top:290px;font-size:13.3px;line-height:13.3px;font-weight:700;color:#0f1f3d;letter-spacing:1.0px;">443</div>
<div class="t" style="left:660.80px;top:316px;font-size:9.6px;line-height:9.6px;font-weight:400;color:#8a93a3;letter-spacing:0px;-webkit-text-stroke:0.25px currentColor">Total Offers</div>
<div class="t" style="left:660.80px;top:331px;font-size:13.3px;line-height:13.3px;font-weight:700;color:#0f1f3d;letter-spacing:1.0px;">533</div>
<div class="b" style="left:774.30px;top:273.90px;width:1.00px;height:70.60px;background:#d9dce2"></div>
<svg class="b" style="left:879.60px;top:287.90px;" width="5" height="8.6" viewBox="0 0 5 8.6" fill="none"><path d="M0.8 0.7 L4.6 4.4 L0.8 8.1" stroke="#b9bec8" stroke-width="1.15" fill="none"/></svg>
<div class="t" style="left:791.30px;top:286px;font-size:11px;line-height:11px;font-weight:700;color:#15203a;letter-spacing:0px;">90.7%</div>
<div class="b" style="left:791.10px;top:310.10px;width:98.80px;height:4.80px;background:#e4e4f6;border-radius:3px"></div>
<div class="b" style="left:791.10px;top:310.10px;width:89.00px;height:4.80px;background:#662d91;border-radius:3px"></div>
<div class="t" style="left:791.10px;top:322px;font-size:9.8px;line-height:9.8px;font-weight:400;color:#8a93a3;letter-spacing:0px;"><b>402</b> Delivered</div>
<div class="b" style="left:643.00px;top:369.40px;width:264.00px;height:76.30px;border:1px solid #d9dce2;border-radius:3.5px;box-sizing:border-box"></div>
<div class="t" style="left:660.50px;top:384px;font-size:11px;line-height:11px;font-weight:700;color:#15203a;letter-spacing:0.2px;">39.3 %</div>
<svg class="b" style="left:879.60px;top:385.60px;" width="5" height="8.6" viewBox="0 0 5 8.6" fill="none"><path d="M0.8 0.7 L4.6 4.4 L0.8 8.1" stroke="#b9bec8" stroke-width="1.15" fill="none"/></svg>
<div class="b" style="left:659.90px;top:407.40px;width:230.20px;height:5.20px;background:#e4e4f6;border-radius:3px"></div>
<div class="b" style="left:659.90px;top:407.40px;width:90.40px;height:5.20px;background:#662d91;border-radius:3px"></div>
<div class="t" style="left:660.50px;top:420px;font-size:9.75px;line-height:9.75px;font-weight:400;color:#8a93a3;letter-spacing:0px;"><b>158</b> Clicked</div>
<div class="b" style="left:643.00px;top:457.40px;width:264.00px;height:76.30px;border:1px solid #d9dce2;border-radius:3.5px;box-sizing:border-box"></div>
<div class="t" style="left:660.50px;top:472px;font-size:11px;line-height:11px;font-weight:700;color:#15203a;letter-spacing:0px;">1.2%</div>
<svg class="b" style="left:879.60px;top:473.60px;" width="5" height="8.6" viewBox="0 0 5 8.6" fill="none"><path d="M0.8 0.7 L4.6 4.4 L0.8 8.1" stroke="#b9bec8" stroke-width="1.15" fill="none"/></svg>
<div class="b" style="left:659.90px;top:495.40px;width:230.20px;height:5.20px;background:#e4e4f6;border-radius:3px"></div>
<div class="b" style="left:659.90px;top:495.40px;width:2.80px;height:5.20px;background:#662d91;border-radius:3px"></div>
<div class="t" style="left:660.50px;top:508px;font-size:9.95px;line-height:9.95px;font-weight:400;color:#8a93a3;letter-spacing:0px;"><b>5</b> Unsubscribed</div>
<svg class="b" style="left:732.50px;top:506.50px;" width="15" height="10.5" viewBox="0 0 15 10.5" fill="none"><g stroke="#1a6fe0" stroke-width="1.1" fill="none" stroke-linejoin="round" stroke-linecap="round"><path d="M2.4 9.4 C1.2 9.4 0.6 8.4 0.6 7.4 C0.6 6.3 1.3 5.4 2.4 5.2 C2.5 2.6 4.1 0.7 6.2 0.7 C7.6 0.7 8.6 1.4 9.2 2.4 C9.7 2 10.3 1.8 10.9 1.9 C12.2 2.1 13 3.2 13.1 4.6 C13.9 5.1 14.4 6 14.4 7.1 C14.4 8.4 13.5 9.4 12.2 9.4 Z"/><path d="M7.3 3.3 V6.2"/></g><path d="M5.1 5.4 H9.5 L7.3 7.6 Z" fill="#1a6fe0"/></svg>
<svg class="b" style="left:642.00px;top:490.00px;" width="120" height="44" viewBox="0 0 120 44" fill="none"><ellipse cx="60" cy="21.7" rx="57.3" ry="19.4" stroke="#f2137c" stroke-width="1.5" fill="none"/></svg>
</div></div></body></html>
